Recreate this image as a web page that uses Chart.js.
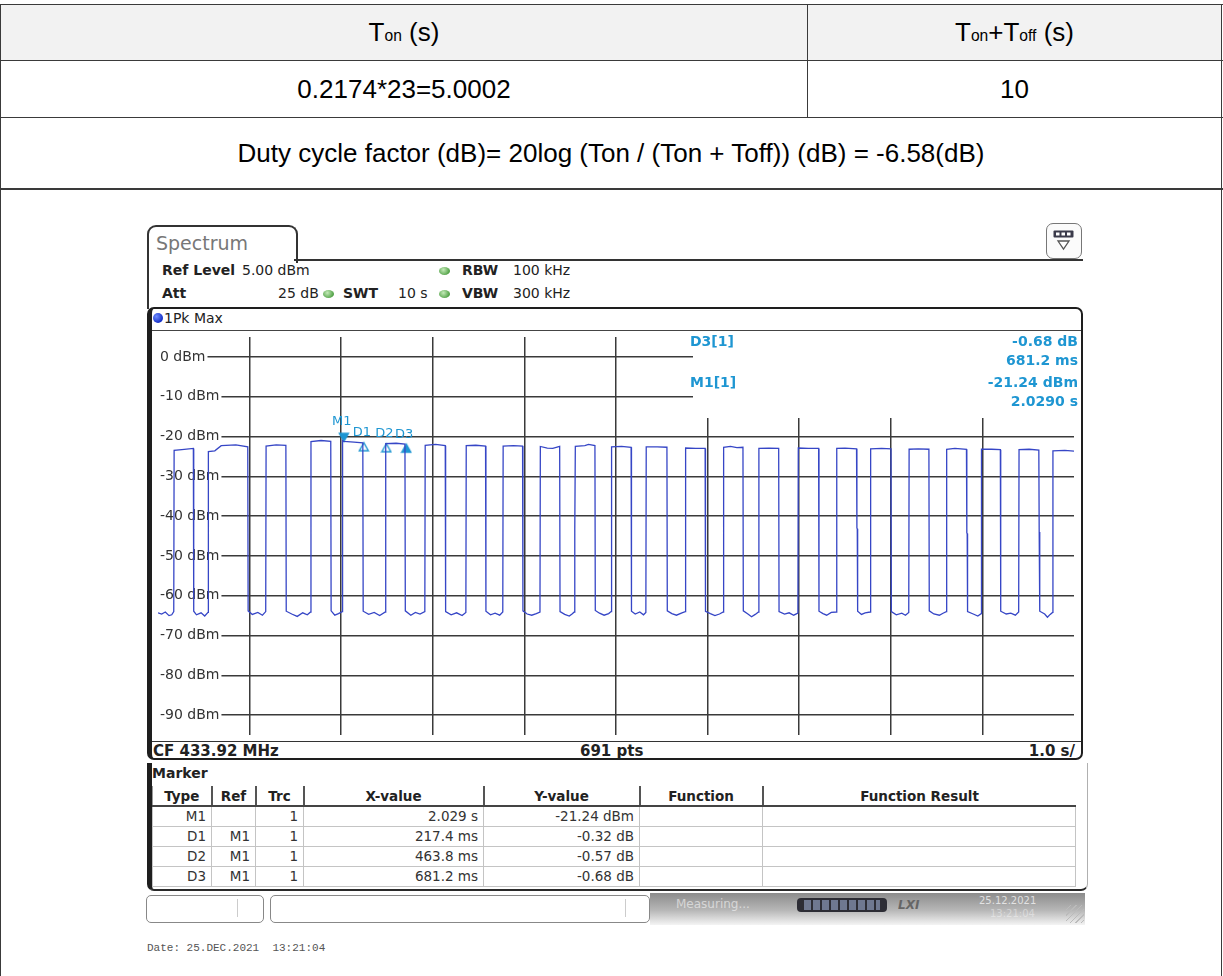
<!DOCTYPE html>
<html>
<head>
<meta charset="utf-8">
<title>Duty cycle factor</title>
<script src="https://cdn.jsdelivr.net/npm/chart.js@4.4.1/dist/chart.umd.min.js"></script>
<style>
html, body { margin: 0; padding: 0; background: #fff; }
body { position: relative; width: 1223px; height: 976px; overflow: hidden; font-family: "Liberation Sans", Arial, sans-serif; color: #000; }
.abs { position: absolute; }
.ln { position: absolute; background: #3a3a3a; }
.cell { position: absolute; display: flex; align-items: center; justify-content: center; font-size: 26px; white-space: nowrap; }
.sub { font-size: 0.6em; position: relative; top: 0.24em; }
.rs { position: absolute; font-family: "DejaVu Sans", Verdana, sans-serif; font-size: 14px; line-height: 14px; color: #222; white-space: nowrap; }
.b { font-weight: bold; }
.dot { position: absolute; width: 11px; height: 8px; border-radius: 50%; background: radial-gradient(circle at 40% 35%, #c4eab8, #4e9f43 75%); }
.ro { position: absolute; font-family: "DejaVu Sans", sans-serif; font-weight: bold; font-size: 14px; line-height: 14px; color: #1e96d2; white-space: nowrap; }
#mk { position: absolute; left: 152px; top: 786px; border-collapse: collapse; table-layout: fixed; width: 923px; font-family: "DejaVu Sans", sans-serif; font-size: 13.5px; color: #333; }
#mk th { height: 19px; padding: 0; font-weight: bold; color: #222; border-left: 2px solid #555; border-bottom: 2px solid #444; text-align: center; }
#mk th:first-child { border-left: 1px solid #999; }
#mk td { height: 19px; padding: 0 5px 0 0; text-align: right; border: 1px solid #c4c4c4; line-height: 1; }
</style>
</head>
<body>

<!-- top table -->
<div class="abs" style="left:1px;top:5px;width:1220px;height:55px;background:#f2f2f2"></div>
<div class="ln" style="left:0;top:4px;width:1223px;height:1px"></div>
<div class="ln" style="left:0;top:60px;width:1223px;height:1px"></div>
<div class="ln" style="left:0;top:117px;width:1223px;height:1px"></div>
<div class="ln" style="left:0;top:188px;width:1223px;height:2px"></div>
<div class="ln" style="left:0;top:4px;width:1px;height:972px"></div>
<div class="ln" style="left:1221px;top:4px;width:1px;height:972px"></div>
<div class="ln" style="left:807px;top:4px;width:1px;height:113px"></div>

<div class="cell" style="left:1px;top:5px;width:806px;height:55px">T<span class="sub">on</span>&nbsp;(s)</div>
<div class="cell" style="left:808px;top:5px;width:413px;height:55px">T<span class="sub">on</span>+T<span class="sub">off</span>&nbsp;(s)</div>
<div class="cell" style="left:1px;top:61px;width:806px;height:56px">0.2174*23=5.0002</div>
<div class="cell" style="left:808px;top:61px;width:413px;height:56px">10</div>
<div class="cell" style="left:1px;top:118px;width:1220px;height:70px">Duty cycle factor (dB)= 20log (Ton / (Ton + Toff)) (dB) = -6.58(dB)</div>

<!-- analyser header -->
<div class="abs" style="left:147px;top:225px;width:147px;height:36px;border:2px solid #333;border-bottom:none;border-radius:9px 9px 0 0"></div>
<div class="rs" style="left:156px;top:233px;font-size:19px;line-height:20px;color:#777">Spectrum</div>
<div class="ln" style="left:294px;top:259px;width:789px;height:2px;background:#333"></div>
<div class="ln" style="left:147px;top:259px;width:2px;height:50px;background:#333"></div>

<div class="abs" style="left:1046px;top:223px;width:34px;height:34px;border:1.5px solid #777;border-radius:7px;background:#fbfbfb"></div>
<svg class="abs" style="left:1053px;top:230px" width="22" height="22">
  <rect x="0.5" y="0.5" width="20" height="7" rx="1" fill="#3a3a4a"/>
  <rect x="3" y="2.5" width="3.5" height="3" fill="#fff"/><rect x="8.5" y="2.5" width="3.5" height="3" fill="#fff"/><rect x="14" y="2.5" width="3.5" height="3" fill="#fff"/>
  <path d="M5 11 L16 11 L10.5 19 Z" fill="#fff" stroke="#555" stroke-width="1.3"/>
</svg>

<div class="rs b" style="left:162px;top:263px">Ref Level</div>
<div class="rs" style="left:242px;top:263px">5.00 dBm</div>
<div class="dot" style="left:439px;top:267px"></div>
<div class="rs b" style="left:462px;top:263px">RBW</div>
<div class="rs" style="left:513px;top:263px">100 kHz</div>
<div class="rs b" style="left:162px;top:286px">Att</div>
<div class="rs" style="left:278px;top:286px">25 dB</div>
<div class="dot" style="left:323px;top:290px"></div>
<div class="rs b" style="left:343px;top:286px">SWT</div>
<div class="rs" style="left:398px;top:286px">10 s</div>
<div class="dot" style="left:439px;top:290px"></div>
<div class="rs b" style="left:462px;top:286px">VBW</div>
<div class="rs" style="left:513px;top:286px">300 kHz</div>

<!-- diagram frame -->
<div class="abs" style="left:147px;top:307px;width:929px;height:449px;border:2px solid #1e1e1e;border-left:5px solid #1e1e1e;border-radius:7px"></div>
<div class="abs" style="left:153px;top:313px;width:10px;height:10px;border-radius:50%;background:radial-gradient(circle at 35% 35%, #6f8cff, #1630c8 70%)"></div>
<div class="rs" style="left:164px;top:311px">1Pk Max</div>
<div class="ln" style="left:152px;top:330px;width:929px;height:1px;background:#444"></div>
<div class="ln" style="left:152px;top:741px;width:929px;height:1px;background:#333"></div>
<div class="rs b" style="left:153px;top:744px;font-size:15px;line-height:15px">CF 433.92 MHz</div>
<div class="rs b" style="left:580px;top:744px;font-size:15px;line-height:15px">691 pts</div>
<div class="rs b" style="right:148px;top:744px;font-size:15px;line-height:15px">1.0 s/</div>

<div class="abs" style="left:152px;top:331px;width:928px;height:410px"><canvas id="trace" width="928" height="410"></canvas></div>

<div class="ro" style="left:690px;top:334px">D3[1]</div>
<div class="ro" style="right:145px;top:334px">-0.68 dB</div>
<div class="ro" style="right:145px;top:353px">681.2 ms</div>
<div class="ro" style="left:690px;top:375px">M1[1]</div>
<div class="ro" style="right:145px;top:375px">-21.24 dBm</div>
<div class="ro" style="right:145px;top:394px">2.0290 s</div>

<!-- marker table -->
<div class="abs" style="left:147px;top:763px;width:935px;height:126px;border:1.5px solid #b0b0b0;border-top:none;border-left:5px solid #1e1e1e;border-bottom:2px solid #2a2a2a;border-radius:0 0 7px 7px"></div>
<div class="rs b" style="left:152px;top:766px">Marker</div>
<table id="mk">
<colgroup><col style="width:59px"><col style="width:44px"><col style="width:48px"><col style="width:180px"><col style="width:156px"><col style="width:123px"><col style="width:313px"></colgroup>
<tr><th>Type</th><th>Ref</th><th>Trc</th><th>X-value</th><th>Y-value</th><th>Function</th><th>Function Result</th></tr>
<tr><td>M1</td><td></td><td>1</td><td>2.029 s</td><td>-21.24 dBm</td><td></td><td></td></tr>
<tr><td>D1</td><td>M1</td><td>1</td><td>217.4 ms</td><td>-0.32 dB</td><td></td><td></td></tr>
<tr><td>D2</td><td>M1</td><td>1</td><td>463.8 ms</td><td>-0.57 dB</td><td></td><td></td></tr>
<tr><td>D3</td><td>M1</td><td>1</td><td>681.2 ms</td><td>-0.68 dB</td><td></td><td></td></tr>
</table>

<!-- status bar -->
<div class="abs" style="left:146px;top:895px;width:116px;height:26px;border:1px solid #888;border-radius:5px;background:#fff"></div>
<div class="ln" style="left:237px;top:899px;width:1px;height:18px;background:#ccc"></div>
<div class="abs" style="left:270px;top:895px;width:378px;height:26px;border:1px solid #888;border-radius:5px;background:#fff"></div>
<div class="ln" style="left:625px;top:899px;width:1px;height:18px;background:#ccc"></div>
<div class="abs" style="left:650px;top:893px;width:435px;height:32px;background:linear-gradient(#8c8c8c, #b8b8b8 55%, #f4f4f4)"></div>
<div class="rs" style="left:676px;top:897px;font-size:12px;color:rgba(255,255,255,0.55)">Measuring...</div>
<div class="abs" style="left:797px;top:898px;width:90px;height:14px;border-radius:4px;background:#2d2d35"></div>
<div class="abs" style="left:804px;top:900px;width:76px;height:10px;background:repeating-linear-gradient(90deg,#6f7890 0 7px,#2d2d35 7px 9px)"></div>
<div class="rs b" style="left:898px;top:898px;font-size:12px;color:#666;font-style:italic">LXI</div>
<div class="rs" style="left:979px;top:896px;font-size:10px;line-height:10px;color:rgba(255,255,255,0.7)">25.12.2021</div>
<div class="rs" style="left:990px;top:909px;font-size:10px;line-height:10px;color:rgba(255,255,255,0.4)">13:21:04</div>
<div class="abs" style="left:1066px;top:905px;width:18px;height:18px;background:repeating-linear-gradient(135deg,transparent 0 3px,#bbb 3px 4px)"></div>

<div class="abs" style="left:147px;top:942px;font-family:'Liberation Mono',monospace;font-size:11px;color:#555;white-space:pre">Date: 25.DEC.2021  13:21:04</div>

<script>
// sweep: 0..10 s (1 s/div), level axis 5 dBm .. -95 dBm
const traceTime = [
  0.000, 0.040, 0.080, 0.120, 0.150, 0.172,
  0.176, 0.260, 0.386,
  0.390, 0.420, 0.470, 0.510, 0.546,
  0.550, 0.620, 0.690, 0.850, 0.980,
  0.984, 1.030, 1.090, 1.140, 1.176,
  1.180, 1.290, 1.396,
  1.400, 1.460, 1.520, 1.580, 1.630, 1.666,
  1.670, 1.780, 1.886,
  1.890, 1.930, 1.970, 2.011,
  2.015, 2.029, 2.140, 2.236,
  2.240, 2.300, 2.360, 2.420, 2.482,
  2.486, 2.600, 2.696,
  2.700, 2.760, 2.810, 2.860, 2.913,
  2.917, 3.030, 3.136,
  3.140, 3.200, 3.260, 3.320, 3.361,
  3.365, 3.470, 3.576,
  3.580, 3.630, 3.680, 3.730, 3.764,
  3.768, 3.880, 3.980,
  3.984, 4.030, 4.080, 4.130, 4.170,
  4.174, 4.250, 4.310, 4.385,
  4.389, 4.440, 4.490, 4.520, 4.545,
  4.548, 4.552, 4.556, 4.660, 4.700, 4.770,
  4.774, 4.820, 4.870, 4.920, 4.946,
  4.948, 4.952, 4.955, 5.060, 5.165,
  5.169, 5.210, 5.260, 5.300, 5.326,
  5.330, 5.450, 5.556,
  5.560, 5.610, 5.660, 5.720, 5.756,
  5.760, 5.870, 5.973,
  5.977, 6.030, 6.080, 6.130, 6.171,
  6.175, 6.250, 6.320, 6.386,
  6.390, 6.440, 6.480, 6.520, 6.556,
  6.560, 6.670, 6.776,
  6.780, 6.840, 6.890, 6.940, 6.986,
  6.990, 7.100, 7.212,
  7.216, 7.260, 7.300, 7.350, 7.406,
  7.410, 7.500, 7.626,
  7.630, 7.634, 7.638, 7.680, 7.720, 7.776,
  7.780, 7.900, 8.002,
  8.006, 8.060, 8.120, 8.160, 8.196,
  8.200, 8.300, 8.416,
  8.420, 8.470, 8.530, 8.570, 8.606,
  8.610, 8.700, 8.826,
  8.830, 8.834, 8.838, 8.900, 8.950, 8.986,
  8.990, 9.100, 9.196,
  9.200, 9.260, 9.310, 9.360, 9.396,
  9.400, 9.510, 9.616,
  9.620, 9.624, 9.628, 9.680, 9.710, 9.740, 9.766,
  9.770, 9.900, 10.000
];
const traceLevel = [
  -64.3, -64.6, -64.1, -65.0, -64.8, -64.0,
  -23.5, -23.3, -23.0,
  -63.9, -64.8, -64.3, -65.1, -64.2,
  -23.8, -23.6, -22.3, -22.1, -22.6,
  -63.8, -64.7, -64.2, -64.9, -64.0,
  -22.4, -22.1, -22.2,
  -63.9, -64.6, -65.2, -64.3, -64.8, -64.1,
  -21.3, -21.0, -21.2,
  -63.8, -64.9, -64.5, -64.0,
  -21.0, -21.24, -21.4, -21.6,
  -63.9, -64.7, -64.2, -65.0, -64.1,
  -21.8, -21.7, -21.9,
  -63.8, -64.9, -64.2, -64.6, -64.0,
  -22.2, -22.0, -22.3,
  -64.0, -64.8, -64.3, -65.0, -64.2,
  -22.3, -22.2, -22.4,
  -63.9, -64.8, -64.4, -64.9, -64.1,
  -22.4, -22.3, -22.4,
  -63.8, -64.6, -64.9, -64.5, -64.1,
  -22.5, -22.9, -23.0, -22.5,
  -64.0, -64.7, -65.1, -64.6, -64.1,
  -43.5, -43.3, -22.5, -22.3, -22.0, -22.3,
  -63.7, -64.4, -64.9, -64.5, -64.0,
  -40.2, -40.0, -22.6, -22.5, -22.7,
  -63.9, -64.6, -64.1, -64.8, -64.2,
  -22.6, -22.6, -22.7,
  -63.8, -64.5, -64.9, -64.3, -64.0,
  -22.9, -23.0, -23.0,
  -63.9, -64.5, -65.0, -64.6, -64.1,
  -22.7, -22.5, -22.8, -22.7,
  -63.8, -64.6, -65.3, -64.7, -64.1,
  -23.0, -22.9, -23.0,
  -64.0, -64.6, -64.3, -64.9, -64.4,
  -22.9, -23.0, -23.0,
  -63.9, -64.5, -64.9, -64.2, -64.1,
  -23.0, -22.9, -23.1,
  -43.0, -43.2, -63.9, -64.7, -64.3, -64.1,
  -23.1, -23.0, -23.1,
  -64.0, -64.8, -64.4, -64.9, -64.2,
  -23.2, -23.1, -23.2,
  -63.8, -64.6, -64.9, -64.4, -64.0,
  -23.2, -23.0, -23.2,
  -44.2, -44.4, -64.0, -64.6, -65.1, -64.5,
  -23.2, -23.2, -23.3,
  -63.9, -64.6, -64.4, -64.9, -64.1,
  -23.3, -23.2, -23.4,
  -44.0, -44.2, -63.9, -64.6, -65.4, -64.7, -64.2,
  -23.6, -23.5, -23.7
];

const markerNames = ['M1', 'D1', 'D2', 'D3'];
const markerTime = [2.029, 2.2464, 2.4928, 2.7102];
const markerLevel = [-21.24, -21.56, -21.81, -21.92];

const xGrid = [1, 2, 3, 4, 5, 6, 7, 8, 9];
const yTicks = [0, -10, -20, -30, -40, -50, -60, -70, -80, -90];

const traceColor = '#3646c6';
const markerColor = '#1e96d2';

function triangleIcon(down, filled) {
    const c = document.createElement('canvas');
    c.width = 12;
    c.height = 20;
    const g = c.getContext('2d');
    g.beginPath();
    if (down) {
        g.moveTo(6, 10); g.lineTo(1.5, 2); g.lineTo(10.5, 2);
    } else {
        g.moveTo(6, 10); g.lineTo(1.5, 18); g.lineTo(10.5, 18);
    }
    g.closePath();
    g.fillStyle = filled ? markerColor : '#fff';
    g.fill();
    g.lineWidth = 1.4;
    g.strokeStyle = markerColor;
    g.stroke();
    return c;
}
const markerIcons = [triangleIcon(true, true), triangleIcon(false, false), triangleIcon(false, false), triangleIcon(false, true)];

// level labels sit inside the diagram, the grid line starts after the text
const levelLabels = {
    id: 'levelLabels',
    beforeDatasetsDraw(chart) {
        const { ctx, chartArea, scales } = chart;
        ctx.save();
        // area behind the marker read-out
        ctx.fillStyle = '#fff';
        ctx.fillRect(chartArea.left + 535, chartArea.top, chartArea.right - chartArea.left - 535, 81);
        ctx.font = '14px "DejaVu Sans"';
        ctx.textBaseline = 'middle';
        yTicks.forEach(v => {
            const y = scales.y.getPixelForValue(v);
            const label = v + ' dBm';
            const w = ctx.measureText(label).width;
            ctx.fillStyle = '#fff';
            ctx.fillRect(chartArea.left, y - 2, w + 4, 4);
            ctx.fillStyle = '#333';
            ctx.fillText(label, chartArea.left + 2, y);
        });
        ctx.restore();
    }
};

const markerLabels = {
    id: 'markerLabels',
    afterDatasetsDraw(chart) {
        const { ctx } = chart;
        const pts = chart.getDatasetMeta(1).data;
        ctx.save();
        ctx.font = '13px "DejaVu Sans"';
        ctx.fillStyle = markerColor;
        ctx.textAlign = 'center';
        ctx.textBaseline = 'middle';
        markerNames.forEach((name, i) => {
            const dy = i === 0 ? -20 : -10;
            ctx.fillText(name, pts[i].x - 2, pts[i].y + dy);
        });
        ctx.restore();
    }
};

const ctx = document.getElementById('trace');
new Chart(ctx, {
    type: 'scatter',
    data: {
        datasets: [{
            label: '1Pk Max',
            data: traceTime.map((t, i) => ({ x: t, y: traceLevel[i] })),
            showLine: true,
            borderColor: traceColor,
            borderWidth: 1.3,
            pointRadius: 0,
            tension: 0
        }, {
            label: 'Marker',
            data: markerTime.map((t, i) => ({ x: t, y: markerLevel[i] })),
            showLine: false,
            pointStyle: markerIcons,
            pointRadius: 5
        }]
    },
    options: {
        responsive: false,
        animation: false,
        events: [],
        layout: { padding: 0 },
        plugins: { legend: { display: false }, tooltip: { enabled: false } },
        scales: {
            x: {
                type: 'linear',
                min: 0,
                max: 10,
                afterBuildTicks: axis => { axis.ticks = xGrid.map(v => ({ value: v })); },
                ticks: { display: false },
                grid: { color: '#3a3a3a', lineWidth: 1.5, drawTicks: false },
                border: { display: false }
            },
            y: {
                min: -95,
                max: 5,
                afterBuildTicks: axis => { axis.ticks = yTicks.map(v => ({ value: v })); },
                ticks: { display: false },
                grid: { color: '#3a3a3a', lineWidth: 1.5, drawTicks: false },
                border: { display: false }
            }
        }
    },
    plugins: [levelLabels, markerLabels]
});
</script>
</body>
</html>
